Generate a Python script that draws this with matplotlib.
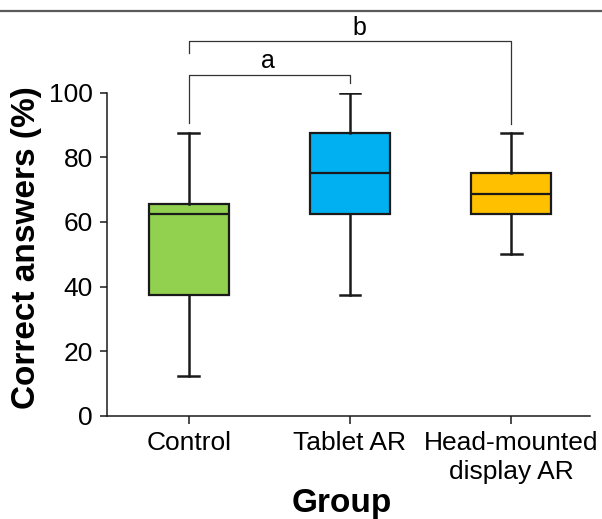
import matplotlib
matplotlib.use("Agg")
import matplotlib.pyplot as plt
from matplotlib.lines import Line2D

plt.rcParams['font.family'] = ['Liberation Sans', 'DejaVu Sans']

# --- dados ---
groups = ["Control", "Tablet AR", "Head-mounted\ndisplay AR"]
whislo = [12.5, 37.5, 50.0]
q1 = [37.5, 62.5, 62.5]
med = [62.5, 75.0, 68.75]
q3 = [65.6, 87.5, 75.0]
whishi = [87.5, 100.0, 87.5]
box_colors = ["#92D050", "#00B0F0", "#FFC000"]

# colchetes de significância: (x1, x2, altura, perna esq., perna dir., letra, x da letra, y da letra)
brackets = [
    (1, 2, 105.5, 90.6, 103.1, "a", 1.49, 107.6),
    (1, 3, 116.1, 112.4, 90.3, "b", 2.06, 117.9),
]

fig = plt.figure(figsize=(6.02, 5.19), dpi=100)
ax = fig.add_axes([0.1777, 0.1985, 0.8023, 0.623])

stats = []
for i in range(len(groups)):
    stats.append({
        "whislo": whislo[i], "q1": q1[i], "med": med[i],
        "q3": q3[i], "whishi": whishi[i], "fliers": [],
    })

bp = ax.bxp(
    stats,
    positions=[1, 2, 3],
    widths=0.5,
    capwidths=0.13,
    patch_artist=True,
    showfliers=False,
    boxprops=dict(linewidth=1.6, edgecolor="#1a1a1a"),
    whiskerprops=dict(linewidth=1.8, color="#1a1a1a"),
    capprops=dict(linewidth=1.8, color="#1a1a1a"),
    medianprops=dict(linewidth=1.6, color="#1a1a1a"),
)
for patch, c in zip(bp["boxes"], box_colors):
    patch.set_facecolor(c)

for x1, x2, h, yl, yr, lab, tx, ty in brackets:
    ax.plot([x1, x1, x2, x2], [yl, h, h, yr], color="#333333",
            linewidth=0.9, clip_on=False)
    ax.text(tx, ty, lab, ha="center", va="baseline", fontsize=18, clip_on=False)

ax.set_xlim(0.491, 3.49)
ax.set_ylim(0, 100)
ax.set_yticks([0, 20, 40, 60, 80, 100])
ax.set_xticks([1, 2, 3])
ax.set_xticklabels(groups)
for t in ax.get_xticklabels():
    t.set_linespacing(1.3)

for s in ["top", "right"]:
    ax.spines[s].set_visible(False)
for s in ["left", "bottom"]:
    ax.spines[s].set_linewidth(1.1)
    ax.spines[s].set_color("#1a1a1a")

ax.tick_params(axis="y", labelsize=19, length=5, width=1.1, pad=5, color="#1a1a1a")
ax.tick_params(axis="x", labelsize=19, length=5.5, width=1.1, pad=5, color="#1a1a1a")

ax.set_ylabel("Correct answers (%)", fontsize=24, fontweight="bold", va="center")
ax.yaxis.set_label_coords(-0.166, 0.52)
ax.set_xlabel("Group", fontsize=24, fontweight="bold", va="center")
ax.xaxis.set_label_coords(0.487, -0.27)

# linha cinza no topo da figura
fig.add_artist(Line2D([0, 1], [1 - 10.5 / 519, 1 - 10.5 / 519],
                      transform=fig.transFigure, color="#5a5a5a", linewidth=1.6))

fig.savefig("out.png", dpi=100)
plt.close(fig)
